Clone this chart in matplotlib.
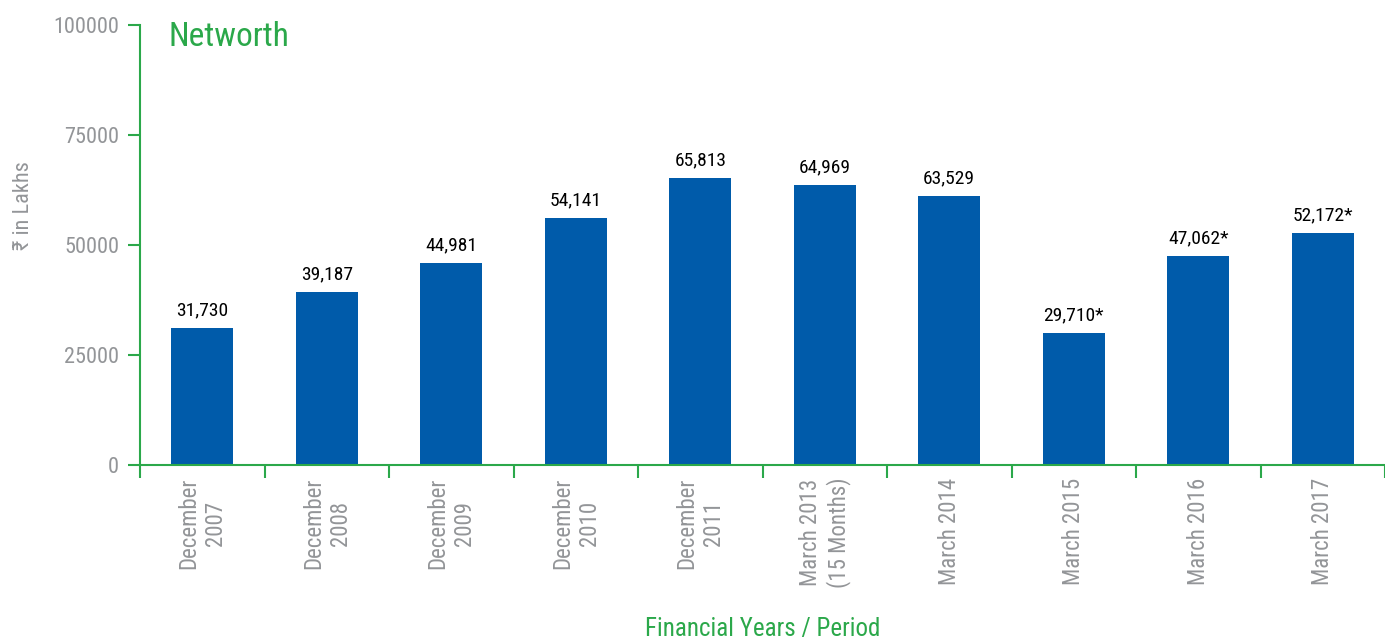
import matplotlib
matplotlib.use('Agg')
from matplotlib import pyplot as plt, font_manager

# values
periods = ['December\n2007', 'December\n2008', 'December\n2009', 'December\n2010',
           'December\n2011', 'March 2013\n(15 Months)', 'March 2014', 'March 2015',
           'March 2016', 'March 2017']
bar_heights = [31100, 39300, 45900, 56100, 65200, 63600, 61100, 30000, 47500, 52700]
value_labels = ['31,730', '39,187', '44,981', '54,141', '65,813', '64,969', '63,529',
                '29,710*', '47,062*', '52,172*']
y_ticks = [0, 25000, 50000, 75000, 100000]

GREEN = '#2BA84A'
BLUE = '#005BAA'
GREY = '#939598'

# a narrow face is closest to the original; fall back to shrunk Liberation Sans
installed = {f.name for f in font_manager.fontManager.ttflist}
narrow = [n for n in ['Liberation Sans Narrow', 'Arial Narrow', 'Roboto Condensed']
          if n in installed]
if narrow:
    main_font, k = narrow[0], 1.0
else:
    main_font, k = 'Liberation Sans', 0.85
plt.rcParams['font.family'] = [main_font, 'DejaVu Sans']

fig = plt.figure(figsize=(13.85, 6.42), dpi=100)
ax = fig.add_axes([140 / 1385, 177 / 642, 1245 / 1385, 440 / 642])

x = range(len(periods))
ax.bar(x, bar_heights, width=0.5, color=BLUE, zorder=2)

for i, (h, lab) in enumerate(zip(bar_heights, value_labels)):
    ax.annotate(lab, (i, h), xytext=(0, 9), textcoords='offset points',
                ha='center', va='baseline', fontsize=14 * k, color='black')

ax.set_xlim(-0.5, len(periods) - 0.5)
ax.set_ylim(0, 100000)
ax.set_yticks(y_ticks)
ax.set_yticklabels([str(v) for v in y_ticks], color=GREY, fontsize=16 * k)

# ticks on category boundaries, labels centred under the bars
ax.set_xticks([i - 0.5 for i in range(len(periods) + 1)])
ax.set_xticklabels([])
ax.set_xticks(list(x), minor=True)
ax.set_xticklabels(periods, minor=True, rotation=90, ha='center', va='top',
                   multialignment='center', color=GREY, fontsize=16.5 * k)
ax.tick_params(axis='x', which='minor', length=0, pad=9)
ax.tick_params(axis='x', which='major', length=9, width=1.5, color=GREEN)
ax.tick_params(axis='y', length=9, width=1.5, color=GREEN, pad=6)

for side in ['top', 'right']:
    ax.spines[side].set_visible(False)
for side in ['left', 'bottom']:
    ax.spines[side].set_color(GREEN)
    ax.spines[side].set_linewidth(1.5)

ax.set_ylabel('₹ in Lakhs', color=GREY, fontsize=16 * k)
ax.yaxis.set_label_coords(-0.085, 0.59)
ax.set_xlabel('Financial Years / Period', color=GREEN, fontsize=18 * k)
ax.xaxis.set_label_coords(0.5, -0.345)

ax.text(0.0225, 1.01, 'Networth', transform=ax.transAxes, ha='left', va='top',
        color=GREEN, fontsize=24 * k)

fig.savefig('out.png', dpi=100)
